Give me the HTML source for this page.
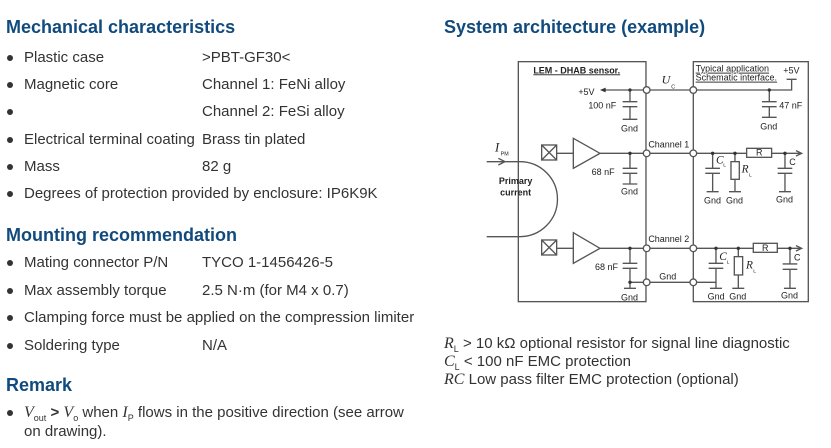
<!DOCTYPE html>
<html><head><meta charset="utf-8"><style>
body{margin:0;width:831px;height:448px;background:#fff;position:relative;overflow:hidden;font-family:"Liberation Sans",Arial,sans-serif;color:#333}
.h{position:absolute;left:6px;font-size:18px;font-weight:bold;color:#114a7c;white-space:nowrap}
.r{position:absolute;font-size:15px;white-space:nowrap;line-height:16px}
.b{position:absolute;left:7px;width:6px;height:6px;border-radius:50%;background:#333}
.c2{position:absolute;left:202px}
.t{position:absolute;left:24px}
i{font-family:"Liberation Serif",serif;font-size:16px}
sub{font-size:9px}
</style></head><body>
<div class="h" style="top:17px">Mechanical characteristics</div>
<div class="r" style="top:50px;width:420px"><span class="b" style="top:5px"></span><span class="t">Plastic case</span><span class="c2">&gt;PBT-GF30&lt;</span></div>
<div class="r" style="top:77px;width:420px"><span class="b" style="top:5px"></span><span class="t">Magnetic core</span><span class="c2">Channel 1: FeNi alloy</span></div>
<div class="r" style="top:104px;width:420px"><span class="b" style="top:5px"></span><span class="c2">Channel 2: FeSi alloy</span></div>
<div class="r" style="top:132px;width:420px"><span class="b" style="top:5px"></span><span class="t">Electrical terminal coating</span><span class="c2">Brass tin plated</span></div>
<div class="r" style="top:159px;width:420px"><span class="b" style="top:5px"></span><span class="t">Mass</span><span class="c2">82 g</span></div>
<div class="r" style="top:186px;width:420px"><span class="b" style="top:5px"></span><span class="t">Degrees of protection provided by enclosure: IP6K9K</span></div>
<div class="h" style="top:225px">Mounting recommendation</div>
<div class="r" style="top:255px;width:420px"><span class="b" style="top:5px"></span><span class="t">Mating connector P/N</span><span class="c2">TYCO 1-1456426-5</span></div>
<div class="r" style="top:283px;width:420px"><span class="b" style="top:5px"></span><span class="t">Max assembly torque</span><span class="c2">2.5 N·m (for M4 x 0.7)</span></div>
<div class="r" style="top:310px;width:420px"><span class="b" style="top:5px"></span><span class="t">Clamping force must be applied on the compression limiter</span></div>
<div class="r" style="top:338px;width:420px"><span class="b" style="top:5px"></span><span class="t">Soldering type</span><span class="c2">N/A</span></div>
<div class="h" style="top:375px">Remark</div>
<div class="r" style="top:405px;width:420px"><span class="b" style="top:5px"></span><span class="t"><i>V</i><sub>out</sub> <b>&gt;</b> <i>V</i><sub>o</sub> when <i>I</i><sub>P</sub> flows in the positive direction (see arrow</span></div>
<div class="r" style="top:424px;left:24px">on drawing).</div>

<div class="h" style="top:17px;left:444px">System architecture (example)</div>
<div class="r" style="top:336px;left:444px"><i>R</i><sub>L</sub> &gt; 10 kΩ optional resistor for signal line diagnostic</div>
<div class="r" style="top:354px;left:444px"><i>C</i><sub>L</sub> &lt; 100 nF EMC protection</div>
<div class="r" style="top:372px;left:444px"><i>RC</i> Low pass filter EMC protection (optional)</div>

<svg style="position:absolute;left:0;top:0" width="831" height="448">
<g transform="translate(440,40) scale(0.3333)" fill="none" stroke="#555" stroke-width="4" font-family="Liberation Sans,Arial,sans-serif" font-size="27">
<rect x="235" y="65" width="383" height="720"/>
<rect x="760" y="65" width="345" height="720"/>
<path d="M495,150H610M630,150H750M770,150H1055V118M1040,118H1070"/>
<path d="M480,150L497,143V157Z" fill="#333" stroke="none"/>
<path d="M570,150V185M548,185H592M548,200H592M570,200V238M548,238H592" />
<path d="M988,150V185M966,185H1010M966,200H1010M988,200V232M966,232H1010"/>
<rect x="305" y="315" width="45" height="45"/><path d="M305,315L350,360M350,315L305,360M350,340H400M480,340H610M630,340H750M770,340H1085M1068,332L1085,340L1068,348"/>
<path d="M400,295L480,340L400,385Z"/>
<path d="M570,340V385M548,385H592M548,400H592M570,400V432M548,432H592"/>
<path d="M818,340V385M796,385H840M796,400H840M818,400V455M800,455H836"/>
<rect x="873" y="365" width="25" height="53" fill="#fff"/><path d="M885,340V365M885,418V455M867,455H903"/>
<rect x="920" y="325" width="75" height="27" fill="#fff"/>
<path d="M1035,340V385M1013,385H1057M1013,400H1057M1035,400V455M1017,455H1053"/>
<rect x="305" y="600" width="45" height="45"/><path d="M305,600L350,645M350,600L305,645M350,625H400M480,625H610M630,625H750M770,625H1085M1068,617L1085,625L1068,633"/>
<path d="M400,578L480,625L400,670Z"/>
<path d="M570,625V670M548,670H592M548,685H592M570,685V745M552,745H588M570,727H610M630,727H750M770,727H828"/>
<path d="M828,625V670M806,670H850M806,685H850M828,685V745M810,745H846"/>
<rect x="883" y="650" width="25" height="55" fill="#fff"/><path d="M895,625V650M895,705V745M877,745H913"/>
<rect x="940" y="610" width="72" height="27" fill="#fff"/>
<path d="M1050,625V672M1028,672H1072M1028,688H1072M1050,688V745M1032,745H1068"/>
<path d="M140,365H240A112,112 0 0 1 240,590H140M175,355L195,365L175,375"/>
<g fill="#fff">
<circle cx="620" cy="150" r="10"/><circle cx="760" cy="150" r="10"/>
<circle cx="620" cy="340" r="10"/><circle cx="760" cy="340" r="10"/>
<circle cx="620" cy="625" r="10"/><circle cx="760" cy="625" r="10"/>
<circle cx="620" cy="727" r="10"/><circle cx="760" cy="727" r="10"/>
</g>
<g fill="#333" stroke="none">
<circle cx="570" cy="150" r="5"/><circle cx="988" cy="150" r="5"/><circle cx="570" cy="340" r="5"/>
<circle cx="818" cy="340" r="5"/><circle cx="885" cy="340" r="5"/><circle cx="1035" cy="340" r="5"/>
<circle cx="570" cy="625" r="5"/><circle cx="570" cy="727" r="5"/>
<circle cx="828" cy="625" r="5"/><circle cx="895" cy="625" r="5"/><circle cx="1050" cy="625" r="5"/>
</g>
<g fill="#222" stroke="none">
<text x="280" y="100" font-weight="bold" text-decoration="underline">LEM - DHAB sensor.</text>
<text x="767" y="95" text-decoration="underline">Typical application</text>
<text x="767" y="122" text-decoration="underline">Schematic interface.</text>
<text x="1030" y="100">+5V</text>
<text x="415" y="165">+5V</text>
<text x="445" y="205">100 nF</text>
<text x="1018" y="205">47 nF</text>
<text x="543" y="275">Gnd</text><text x="961" y="268">Gnd</text>
<text x="455" y="405">68 nF</text><text x="543" y="463">Gnd</text>
<text x="465" y="690">68 nF</text><text x="543" y="782">Gnd</text>
<text x="625" y="322">Channel 1</text><text x="625" y="606">Channel 2</text>
<text x="658" y="718">Gnd</text>
<text x="792" y="490">Gnd</text><text x="858" y="490">Gnd</text><text x="1008" y="487">Gnd</text>
<text x="803" y="778">Gnd</text><text x="868" y="778">Gnd</text><text x="1023" y="775">Gnd</text>
<text x="948" y="347">R</text><text x="966" y="633">R</text>
<text x="1048" y="375">C</text><text x="1062" y="662">C</text>
<text x="828" y="370" font-family="Liberation Serif,serif" font-style="italic" font-size="34">C</text><text x="850" y="380" font-size="15">L</text>
<text x="905" y="398" font-family="Liberation Serif,serif" font-style="italic" font-size="34">R</text><text x="927" y="410" font-size="15">L</text>
<text x="838" y="660" font-family="Liberation Serif,serif" font-style="italic" font-size="34">C</text><text x="860" y="670" font-size="15">L</text>
<text x="918" y="685" font-family="Liberation Serif,serif" font-style="italic" font-size="34">R</text><text x="940" y="697" font-size="15">L</text>
<text x="665" y="130" font-family="Liberation Serif,serif" font-style="italic" font-size="36">U</text><text x="694" y="146" font-size="16">C</text>
<text x="165" y="335" font-family="Liberation Serif,serif" font-style="italic" font-size="38">I</text><text x="182" y="347" font-size="16">PM</text>
<text x="227" y="432" font-weight="bold" text-anchor="middle">Primary</text>
<text x="227" y="466" font-weight="bold" text-anchor="middle">current</text>
</g>
</g>
</svg>
</body></html>
